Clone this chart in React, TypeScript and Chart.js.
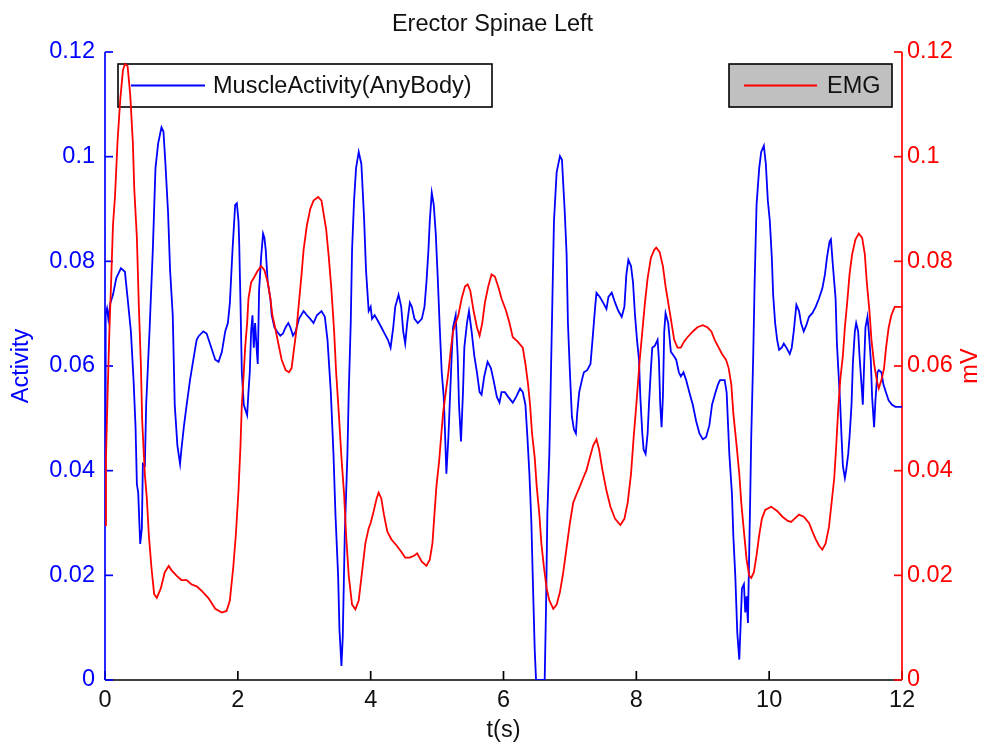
import React, { useEffect, useRef } from "react";
import { Chart, registerables } from "chart.js";

Chart.register(...registerables);

const TITLE = "Erector Spinae Left";
const X_LABEL = "t(s)";
const Y_LEFT_LABEL = "Activity";
const Y_RIGHT_LABEL = "mV";
const ACT_LABEL = "MuscleActivity(AnyBody)";
const EMG_LABEL = "EMG";
const X_TICKS = [0, 2, 4, 6, 8, 10, 12];
const Y_TICKS = [0, 0.02, 0.04, 0.06, 0.08, 0.1, 0.12];

// Muscle activity (AnyBody) — time (s)
const actT = [
  0.0, 0.01, 0.03, 0.05, 0.08, 0.12, 0.17, 0.24, 0.3, 0.34, 0.39, 0.43, 0.46, 0.48, 0.5, 0.53, 0.555, 0.57, 0.6, 0.62,
  0.67, 0.72, 0.76, 0.8, 0.85, 0.88, 0.91, 0.95, 0.98, 1.02, 1.05, 1.09, 1.13, 1.15, 1.19, 1.23, 1.28, 1.33, 1.38, 1.41,
  1.48, 1.53, 1.58, 1.66, 1.71, 1.76, 1.81, 1.85, 1.88, 1.92, 1.96, 1.985, 2.01, 2.02, 2.04, 2.06, 2.09, 2.11, 2.14, 2.16,
  2.18, 2.2, 2.22, 2.24, 2.26, 2.29, 2.3, 2.32, 2.35, 2.38, 2.4, 2.42, 2.45, 2.49, 2.51, 2.55, 2.59, 2.64, 2.68, 2.72,
  2.76, 2.79, 2.83, 2.87, 2.92, 2.99, 3.04, 3.09, 3.14, 3.19, 3.26, 3.31, 3.35, 3.4, 3.44, 3.47, 3.51, 3.53, 3.56, 3.58,
  3.61, 3.65, 3.67, 3.7, 3.72, 3.75, 3.78, 3.82, 3.86, 3.9, 3.93, 3.97, 4.0, 4.02, 4.06, 4.11, 4.16, 4.21, 4.26, 4.3,
  4.34, 4.37, 4.42, 4.46, 4.49, 4.52, 4.55, 4.59, 4.62, 4.66, 4.71, 4.77, 4.81, 4.84, 4.87, 4.89, 4.92, 4.95, 4.98, 5.01,
  5.04, 5.07, 5.1, 5.12, 5.14, 5.17, 5.19, 5.22, 5.24, 5.28, 5.31, 5.33, 5.36, 5.39, 5.41, 5.45, 5.48, 5.52, 5.56, 5.6,
  5.64, 5.67, 5.71, 5.76, 5.81, 5.85, 5.9, 5.94, 5.97, 6.02, 6.07, 6.14, 6.19, 6.25, 6.29, 6.33, 6.36, 6.39, 6.42, 6.44,
  6.47, 6.49, 6.62, 6.64, 6.66, 6.69, 6.71, 6.74, 6.76, 6.8, 6.85, 6.88, 6.92, 6.95, 6.97, 7.0, 7.03, 7.06, 7.09, 7.11,
  7.14, 7.18, 7.21, 7.26, 7.31, 7.34, 7.38, 7.4, 7.45, 7.5, 7.55, 7.58, 7.63, 7.68, 7.73, 7.78, 7.82, 7.85, 7.88, 7.92,
  7.95, 7.98, 8.01, 8.04, 8.06, 8.09, 8.11, 8.14, 8.17, 8.19, 8.22, 8.24, 8.28, 8.32, 8.34, 8.36, 8.38, 8.4, 8.42, 8.44,
  8.48, 8.52, 8.56, 8.6, 8.64, 8.67, 8.71, 8.75, 8.8, 8.85, 8.9, 8.95, 9.0, 9.05, 9.1, 9.14, 9.19, 9.23, 9.26, 9.33,
  9.36, 9.4, 9.44, 9.46, 9.49, 9.52, 9.55, 9.57, 9.59, 9.62, 9.64, 9.66, 9.68, 9.71, 9.73, 9.76, 9.78, 9.81, 9.85, 9.88,
  9.92, 9.95, 9.98, 10.01, 10.04, 10.06, 10.09, 10.12, 10.15, 10.19, 10.22, 10.26, 10.31, 10.34, 10.37, 10.41, 10.45, 10.48, 10.52, 10.56,
  10.6, 10.65, 10.7, 10.75, 10.8, 10.84, 10.87, 10.91, 10.93, 10.96, 11.0, 11.02, 11.05, 11.07, 11.09, 11.11, 11.14, 11.16, 11.19, 11.21,
  11.24, 11.26, 11.29, 11.31, 11.34, 11.36, 11.39, 11.41, 11.43, 11.45, 11.48, 11.5, 11.53, 11.55, 11.58, 11.6, 11.63, 11.65, 11.69, 11.72,
  11.76, 11.8, 11.85, 11.9, 12.0,
];
// Muscle activity (AnyBody) — activity
const actV = [
  0.043, 0.07, 0.071, 0.069, 0.072, 0.0736, 0.0768, 0.0787, 0.078, 0.073, 0.0666, 0.0573, 0.0483, 0.0374, 0.0358, 0.026, 0.029, 0.0413, 0.041, 0.0526,
  0.0666, 0.0822, 0.0978, 0.1025, 0.1056, 0.1048, 0.0986, 0.0892, 0.0783, 0.0697, 0.0526, 0.0448, 0.0413, 0.044, 0.0487, 0.0526, 0.0573, 0.0612, 0.065, 0.0657,
  0.0666, 0.0662, 0.0643, 0.0612, 0.0608, 0.0627, 0.0666, 0.0682, 0.072, 0.0822, 0.0908, 0.0911, 0.0877, 0.0838, 0.072, 0.0588, 0.0526, 0.0518, 0.0506, 0.055,
  0.0588, 0.0666, 0.0697, 0.0635, 0.0682, 0.062, 0.0604, 0.0744, 0.0807, 0.0853, 0.0845, 0.0822, 0.076, 0.0729, 0.0697, 0.0674, 0.0666, 0.0658, 0.0662, 0.0674,
  0.0682, 0.0674, 0.0658, 0.0666, 0.069, 0.0705, 0.0697, 0.069, 0.0682, 0.0697, 0.0705, 0.0694, 0.065, 0.055, 0.0432, 0.0316, 0.0199, 0.0097, 0.0027, 0.0082,
  0.0277, 0.0432, 0.055, 0.0682, 0.0822, 0.0916, 0.0978, 0.1009, 0.0986, 0.0885, 0.0783, 0.0705, 0.0713, 0.069, 0.0697, 0.0686, 0.0674, 0.0662, 0.065, 0.0635,
  0.0674, 0.0713, 0.0736, 0.0713, 0.0666, 0.0643, 0.0682, 0.0721, 0.0713, 0.069, 0.0682, 0.069, 0.0713, 0.076, 0.0822, 0.0877, 0.0931, 0.0908, 0.0853, 0.0768,
  0.0674, 0.0588, 0.0541, 0.0471, 0.0394, 0.0463, 0.0526, 0.062, 0.0674, 0.0697, 0.062, 0.0526, 0.0456, 0.055, 0.0635, 0.0682, 0.0705, 0.0666, 0.062, 0.0588,
  0.055, 0.0545, 0.058, 0.0608, 0.0596, 0.0573, 0.0541, 0.053, 0.055, 0.055, 0.0541, 0.053, 0.0541, 0.0557, 0.055, 0.0526, 0.0464, 0.0394, 0.03, 0.0199,
  0.0058, 0.0, 0.0, 0.0136, 0.0316, 0.0432, 0.0557, 0.0752, 0.0877, 0.097, 0.1001, 0.0994, 0.09, 0.0814, 0.0682, 0.0588, 0.0503, 0.0479, 0.0471, 0.051,
  0.055, 0.0573, 0.0588, 0.0592, 0.0604, 0.065, 0.0713, 0.074, 0.0732, 0.0721, 0.0709, 0.0732, 0.074, 0.0721, 0.0705, 0.0694, 0.0713, 0.0775, 0.0803, 0.0791,
  0.076, 0.0697, 0.065, 0.0612, 0.0541, 0.0471, 0.044, 0.0432, 0.0471, 0.0526, 0.0596, 0.0635, 0.0639, 0.065, 0.0612, 0.0526, 0.0483, 0.0541, 0.0666, 0.0701,
  0.0682, 0.0627, 0.062, 0.0612, 0.0588, 0.058, 0.0588, 0.0573, 0.0549, 0.0526, 0.0495, 0.0471, 0.046, 0.0464, 0.0487, 0.0526, 0.0549, 0.0565, 0.0573, 0.0573,
  0.0549, 0.0432, 0.0355, 0.0277, 0.0199, 0.009, 0.0039, 0.0105, 0.0175, 0.0183, 0.0129, 0.016, 0.0109, 0.0316, 0.0464, 0.062, 0.0752, 0.0908, 0.0978, 0.1009,
  0.1021, 0.0986, 0.0916, 0.0877, 0.0807, 0.0736, 0.0682, 0.065, 0.0631, 0.0635, 0.0643, 0.0635, 0.0623, 0.0635, 0.0666, 0.0717, 0.0705, 0.0682, 0.0666, 0.0678,
  0.0694, 0.0701, 0.0713, 0.0729, 0.0748, 0.0775, 0.0807, 0.0838, 0.0842, 0.0791, 0.0729, 0.0643, 0.0573, 0.0526, 0.0464, 0.0409, 0.0386, 0.0401, 0.0432, 0.0464,
  0.0526, 0.0604, 0.0666, 0.0682, 0.0666, 0.062, 0.0565, 0.0526, 0.0604, 0.0674, 0.0694, 0.0666, 0.0612, 0.0541, 0.0483, 0.0534, 0.0588, 0.0592, 0.0588, 0.0565,
  0.0549, 0.0534, 0.0526, 0.0522, 0.0522,
];

// EMG — time (s)
const emgT = [
  0.0, 0.015, 0.04, 0.066, 0.09, 0.12, 0.15, 0.19, 0.23, 0.27, 0.3, 0.34, 0.38, 0.42, 0.44, 0.48, 0.51, 0.54, 0.56, 0.6,
  0.63, 0.66, 0.7, 0.74, 0.78, 0.84, 0.9, 0.96, 1.0, 1.08, 1.15, 1.23, 1.3, 1.38, 1.45, 1.56, 1.66, 1.76, 1.83, 1.88,
  1.93, 1.97, 2.01, 2.04, 2.06, 2.09, 2.11, 2.14, 2.16, 2.2, 2.24, 2.29, 2.35, 2.4, 2.45, 2.49, 2.52, 2.56, 2.61, 2.66,
  2.72, 2.77, 2.81, 2.84, 2.88, 2.92, 2.96, 2.99, 3.04, 3.09, 3.14, 3.21, 3.26, 3.29, 3.33, 3.37, 3.41, 3.45, 3.48, 3.52,
  3.56, 3.6, 3.63, 3.67, 3.72, 3.77, 3.82, 3.87, 3.92, 3.97, 4.0, 4.05, 4.09, 4.12, 4.16, 4.2, 4.25, 4.31, 4.39, 4.46,
  4.52, 4.59, 4.66, 4.7, 4.77, 4.84, 4.89, 4.93, 4.96, 4.99, 5.03, 5.06, 5.09, 5.13, 5.17, 5.21, 5.24, 5.28, 5.32, 5.37,
  5.42, 5.46, 5.5, 5.55, 5.6, 5.64, 5.68, 5.72, 5.77, 5.82, 5.87, 5.92, 5.97, 6.04, 6.09, 6.14, 6.21, 6.29, 6.33, 6.37,
  6.4, 6.43, 6.47, 6.5, 6.54, 6.57, 6.61, 6.65, 6.69, 6.75, 6.8, 6.85, 6.9, 6.95, 7.0, 7.05, 7.1, 7.15, 7.2, 7.25,
  7.3, 7.35, 7.4, 7.44, 7.49, 7.55, 7.61, 7.68, 7.76, 7.82, 7.87, 7.92, 7.96, 8.0, 8.05, 8.09, 8.13, 8.17, 8.22, 8.27,
  8.3, 8.35, 8.4, 8.44, 8.48, 8.53, 8.57, 8.62, 8.67, 8.72, 8.77, 8.85, 8.92, 9.0, 9.07, 9.13, 9.18, 9.24, 9.29, 9.35,
  9.39, 9.43, 9.46, 9.51, 9.55, 9.58, 9.62, 9.66, 9.7, 9.73, 9.77, 9.81, 9.85, 9.89, 9.94, 10.03, 10.12, 10.2, 10.28, 10.33,
  10.38, 10.45, 10.52, 10.6, 10.65, 10.7, 10.75, 10.8, 10.85, 10.9, 10.94, 10.98, 11.01, 11.04, 11.07, 11.11, 11.14, 11.18, 11.21, 11.25,
  11.3, 11.35, 11.4, 11.44, 11.47, 11.51, 11.54, 11.58, 11.62, 11.65, 11.69, 11.73, 11.76, 11.8, 11.84, 11.89, 12.0,
];
// EMG — mV
const emgV = [
  0.0296, 0.0425, 0.055, 0.0666, 0.0752, 0.0869, 0.0923, 0.1032, 0.111, 0.1165, 0.1177, 0.1173, 0.1118, 0.1025, 0.094, 0.0845, 0.0713, 0.0604, 0.0495, 0.0393,
  0.0347, 0.0277, 0.0214, 0.0164, 0.0157, 0.0175, 0.0206, 0.0218, 0.021, 0.0199, 0.0191, 0.0191, 0.0183, 0.0179, 0.0171, 0.0156, 0.0136, 0.0129, 0.0132, 0.0152,
  0.0214, 0.0277, 0.0362, 0.0448, 0.0526, 0.0588, 0.0635, 0.0682, 0.0729, 0.076, 0.0768, 0.078, 0.0791, 0.0783, 0.076, 0.0729, 0.0697, 0.0674, 0.0643, 0.0612,
  0.0592, 0.0588, 0.0596, 0.0627, 0.0666, 0.0721, 0.0776, 0.0822, 0.0869, 0.09, 0.0916, 0.0923, 0.0916, 0.0892, 0.0861, 0.0807, 0.0744, 0.0666, 0.0588, 0.051,
  0.0425, 0.0355, 0.0277, 0.0199, 0.0144, 0.0135, 0.0152, 0.0206, 0.0261, 0.029, 0.03, 0.0325, 0.0347, 0.0358, 0.0347, 0.0316, 0.0284, 0.0269, 0.0257, 0.0245,
  0.0234, 0.0234, 0.0238, 0.0242, 0.0226, 0.0218, 0.023, 0.0261, 0.0316, 0.037, 0.0417, 0.0464, 0.051, 0.0549, 0.0588, 0.0635, 0.0666, 0.0682, 0.0697, 0.0729,
  0.0752, 0.0756, 0.0744, 0.0705, 0.0674, 0.0658, 0.0682, 0.0721, 0.0752, 0.0775, 0.0771, 0.0752, 0.0729, 0.0705, 0.0682, 0.0655, 0.0647, 0.0635, 0.0604, 0.0565,
  0.0526, 0.0471, 0.0425, 0.037, 0.0316, 0.0261, 0.0214, 0.0175, 0.0152, 0.0136, 0.0144, 0.0168, 0.0206, 0.0253, 0.03, 0.0339, 0.0355, 0.037, 0.0386, 0.0401,
  0.0425, 0.0448, 0.046, 0.044, 0.0401, 0.0362, 0.0331, 0.0308, 0.0296, 0.0308, 0.0339, 0.0394, 0.0464, 0.0526, 0.061, 0.0666, 0.0721, 0.0768, 0.0807, 0.0822,
  0.0826, 0.0818, 0.0791, 0.0752, 0.0721, 0.0682, 0.065, 0.0635, 0.0635, 0.0647, 0.0655, 0.0666, 0.0674, 0.0678, 0.0674, 0.0666, 0.065, 0.0635, 0.0623, 0.0612,
  0.0596, 0.0565, 0.051, 0.0448, 0.0394, 0.0339, 0.0284, 0.023, 0.0199, 0.0195, 0.0206, 0.0238, 0.0277, 0.0308, 0.0325, 0.0331, 0.0323, 0.0312, 0.0304, 0.0302,
  0.0308, 0.0316, 0.0312, 0.03, 0.0284, 0.0269, 0.0257, 0.0249, 0.0261, 0.0292, 0.0339, 0.0386, 0.0448, 0.0518, 0.0573, 0.062, 0.0674, 0.0729, 0.0775, 0.0814,
  0.0842, 0.0853, 0.0845, 0.0814, 0.076, 0.0705, 0.065, 0.0604, 0.0573, 0.0557, 0.0573, 0.0596, 0.0635, 0.0674, 0.0697, 0.0713, 0.0713,
];

const BLUE = "#0000ff";
const RED = "#ff0000";
const FONT = "'Liberation Sans', Arial, Helvetica, sans-serif";
const FONT_SIZE = 23.5;
const LINE_W = 1.8;

const fmt = (v: number) => String(parseFloat(Number(v).toFixed(4)));

export default function App() {
  const canvasRef = useRef<HTMLCanvasElement | null>(null);

  useEffect(() => {
    const canvas = canvasRef.current;
    if (!canvas) return;

    const actData = actT.map((t, i) => ({ x: t, y: actV[i] }));
    const emgData = emgT.map((t, i) => ({ x: t, y: emgV[i] }));

    const drawLegend = (
      ctx: CanvasRenderingContext2D,
      x: number,
      y: number,
      w: number,
      h: number,
      fill: string,
      color: string,
      label: string,
      lineX0: number,
      lineX1: number,
      textX: number
    ) => {
      ctx.save();
      ctx.fillStyle = fill;
      ctx.fillRect(x, y, w, h);
      ctx.strokeStyle = "#000";
      ctx.lineWidth = 1.6;
      ctx.strokeRect(x, y, w, h);
      ctx.strokeStyle = color;
      ctx.lineWidth = LINE_W;
      ctx.beginPath();
      ctx.moveTo(lineX0, y + h / 2);
      ctx.lineTo(lineX1, y + h / 2);
      ctx.stroke();
      ctx.fillStyle = "#111";
      ctx.font = `${FONT_SIZE}px ${FONT}`;
      ctx.textBaseline = "middle";
      ctx.textAlign = "left";
      ctx.fillText(label, textX, y + h / 2 + 1);
      ctx.restore();
    };

    const matlabPlugin = {
      id: "matlabAxes",
      beforeDatasetsDraw(chart: any) {
        const { ctx, chartArea: ca, scales } = chart;
        const xs = scales.x;
        const yl = scales.y;
        const yr = scales.y1;
        ctx.save();
        ctx.strokeStyle = "#000";
        ctx.lineWidth = 1.7;
        ctx.beginPath();
        ctx.moveTo(ca.left, ca.bottom);
        ctx.lineTo(ca.right, ca.bottom);
        ctx.stroke();
        X_TICKS.forEach((t) => {
          const px = xs.getPixelForValue(t);
          ctx.beginPath();
          ctx.moveTo(px, ca.bottom);
          ctx.lineTo(px, ca.bottom - 9);
          ctx.stroke();
        });
        ctx.strokeStyle = BLUE;
        ctx.beginPath();
        ctx.moveTo(ca.left, ca.top);
        ctx.lineTo(ca.left, ca.bottom);
        ctx.stroke();
        Y_TICKS.forEach((v) => {
          const py = yl.getPixelForValue(v);
          ctx.beginPath();
          ctx.moveTo(ca.left, py);
          ctx.lineTo(ca.left + 8, py);
          ctx.stroke();
        });
        ctx.strokeStyle = RED;
        ctx.beginPath();
        ctx.moveTo(ca.right, ca.top);
        ctx.lineTo(ca.right, ca.bottom);
        ctx.stroke();
        Y_TICKS.forEach((v) => {
          const py = yr.getPixelForValue(v);
          ctx.beginPath();
          ctx.moveTo(ca.right, py);
          ctx.lineTo(ca.right - 8, py);
          ctx.stroke();
        });
        ctx.restore();
      },
      afterDatasetDraw(chart: any, args: any) {
        if (args.meta.label !== ACT_LABEL) return;
        const { ctx, chartArea: ca } = chart;
        drawLegend(ctx, ca.left + 13, ca.top + 12, 374, 43, "#ffffff", BLUE, ACT_LABEL, ca.left + 26, ca.left + 100, ca.left + 108);
      },
      afterDatasetsDraw(chart: any) {
        const { ctx, chartArea: ca } = chart;
        const w = 163;
        const x0 = ca.right - 10 - w;
        drawLegend(ctx, x0, ca.top + 12, w, 43, "#c0c0c0", RED, EMG_LABEL, x0 + 15, x0 + 88, x0 + 98);

        ctx.save();
        ctx.font = `${FONT_SIZE}px ${FONT}`;
        ctx.textAlign = "center";
        ctx.textBaseline = "middle";
        const midY = (ca.top + ca.bottom) / 2;
        ctx.fillStyle = "#111";
        ctx.fillText(X_LABEL, (ca.left + ca.right) / 2, 731);
        ctx.save();
        ctx.translate(22, midY);
        ctx.rotate(-Math.PI / 2);
        ctx.fillStyle = BLUE;
        ctx.fillText(Y_LEFT_LABEL, 0, 0);
        ctx.restore();
        ctx.save();
        ctx.translate(971, midY);
        ctx.rotate(-Math.PI / 2);
        ctx.fillStyle = RED;
        ctx.fillText(Y_RIGHT_LABEL, 0, 0);
        ctx.restore();
        ctx.restore();
      },
    };

    const chart = new Chart(canvas, {
      type: "line",
      data: {
        datasets: [
          {
            label: EMG_LABEL,
            data: emgData,
            yAxisID: "y1",
            borderColor: RED,
            borderWidth: LINE_W,
            pointRadius: 0,
            tension: 0,
            fill: false,
            order: 1,
          },
          {
            label: ACT_LABEL,
            data: actData,
            yAxisID: "y",
            borderColor: BLUE,
            borderWidth: LINE_W,
            pointRadius: 0,
            tension: 0,
            fill: false,
            order: 2,
          },
        ],
      },
      options: {
        responsive: false,
        animation: false,
        devicePixelRatio: 1,
        parsing: false,
        layout: { padding: 0 },
        plugins: {
          legend: { display: false },
          tooltip: { enabled: false },
          title: {
            display: true,
            text: TITLE,
            color: "#111",
            font: { family: FONT, size: FONT_SIZE, weight: "normal" },
            padding: { top: 10, bottom: 13.8 },
          },
        },
        scales: {
          x: {
            type: "linear",
            min: 0,
            max: 12,
            grid: { display: false, drawTicks: false },
            border: { display: false },
            ticks: {
              stepSize: 2,
              color: "#111",
              padding: 6,
              maxRotation: 0,
              font: { family: FONT, size: FONT_SIZE },
              callback: (v: any) => fmt(v),
            },
            afterFit: (s: any) => {
              s.height = 69;
            },
          },
          y: {
            type: "linear",
            position: "left",
            min: 0,
            max: 0.12,
            grid: { display: false, drawTicks: false },
            border: { display: false },
            ticks: {
              stepSize: 0.02,
              color: BLUE,
              padding: 10,
              font: { family: FONT, size: FONT_SIZE },
              callback: (v: any) => fmt(v),
            },
            afterFit: (s: any) => {
              s.width = 105;
            },
          },
          y1: {
            type: "linear",
            position: "right",
            min: 0,
            max: 0.12,
            grid: { display: false, drawTicks: false },
            border: { display: false },
            ticks: {
              stepSize: 0.02,
              color: RED,
              padding: 5,
              font: { family: FONT, size: FONT_SIZE },
              callback: (v: any) => fmt(v),
            },
            afterFit: (s: any) => {
              s.width = 83;
            },
          },
        },
      } as any,
      plugins: [matlabPlugin],
    });

    return () => chart.destroy();
  }, []);

  return (
    <div style={{ position: "absolute", left: 0, top: 0, width: 985, height: 749, background: "#fff" }}>
      <canvas ref={canvasRef} width={985} height={749} />
    </div>
  );
}
